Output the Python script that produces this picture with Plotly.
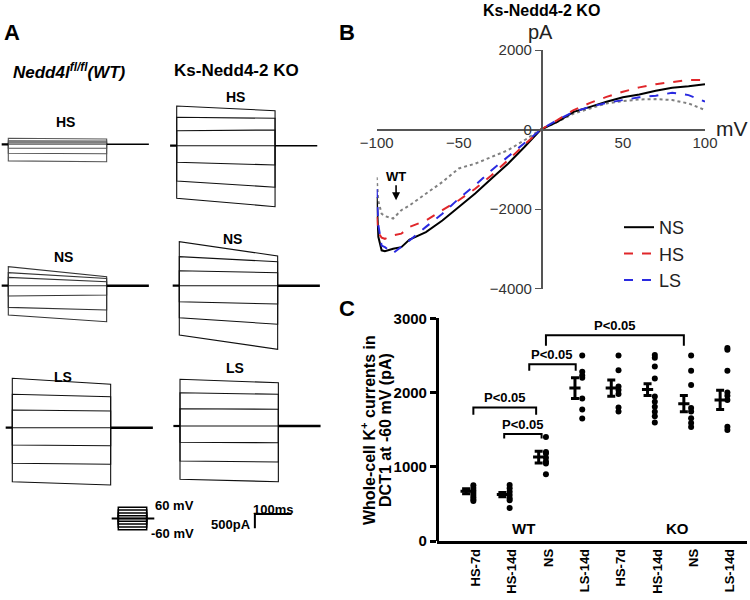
import plotly.graph_objects as go

W, H = 750, 600
FONT = "Liberation Sans, Arial, sans-serif"

# ---------------- Panel A data (pA, relative to holding) ----------------
steps_mV = [60, 40, 20, 0, -20, -40, -60]
protocol_icon_mV = [60, 45, 30, 15, 0, -15, -30, -45, -60]
hold_pre_ms = 18
pulse_ms = 268
hold_post_ms = 115
scale_ms = 100
scale_pA = 500

wt_hs_start = [210, 120, 55, 0, -140, -315, -580]
wt_hs_end = [185, 110, 50, 0, -140, -330, -610]
ko_hs_start = [1390, 995, 525, 0, -580, -1235, -1840]
ko_hs_end = [1225, 960, 550, 0, -675, -1455, -2135]
wt_ns_start = [665, 455, 290, 0, -360, -760, -1025]
wt_ns_end = [315, 255, 140, 0, -325, -850, -1260]
ko_ns_start = [1540, 1015, 525, 0, -560, -1120, -1725]
ko_ns_end = [1040, 840, 455, 0, -640, -1350, -2225]
wt_ls_start = [1730, 1170, 620, 0, -605, -1245, -1890]
wt_ls_end = [1520, 1085, 585, 0, -630, -1280, -2005]
ko_ls_start = [1635, 1165, 605, 0, -570, -1225, -1865]
ko_ls_end = [1515, 1110, 585, 0, -585, -1260, -1950]

# ---------------- Panel B data (I-V curves) ----------------
iv_mV = [-100, -99, -97, -95, -90, -85, -80, -70, -60, -50, -40, -30, -20, -10,
         0, 10, 20, 30, 40, 50, 60, 70, 80, 90, 100]
iv_ns = [-1700, -2700, -3040, -3060, -3000, -2960, -2770, -2580, -2290, -1950, -1610,
         -1235, -860, -440, 0, 190, 445, 570, 700, 810, 880, 975, 1050, 1090, 1140]
iv_hs = [-2200, -2600, -2720, -2750, -2660, -2620, -2450, -2290, -2030, -1780, -1490,
         -1150, -770, -395, 0, 235, 490, 670, 820, 950, 1060, 1140, 1200, 1245, 1245]
iv_ls = [-1500, -2400, -2920, -2960, -3110, -2960, -2790, -2450, -2120, -1740, -1400,
         -1025, -690, -350, 0, 235, 445, 570, 670, 740, 810, 850, 925, 865, 700]
iv_wt = [-1200, -1800, -2120, -2180, -2240, -2030, -1910, -1610, -1320, -980, -860,
         -690, -520, -270, 0, 190, 400, 530, 655, 715, 755, 765, 740, 655, 490]

# ---------------- Panel C data ----------------
c_labels = ["HS-7d", "HS-14d", "NS", "LS-14d", "HS-7d", "HS-14d", "NS", "LS-14d"]
c_points = [
    [750, 715, 680, 650, 620, 590, 560, 540],
    [755, 710, 665, 620, 575, 550, 445],
    [1400, 1200, 1180, 1120, 1070, 1045, 900],
    [2500, 2280, 2230, 2200, 1920, 1770, 1650],
    [2500, 2300, 2080, 2035, 1980, 1800, 1745],
    [2505, 2470, 2350, 2190, 1945, 1875, 1810, 1740, 1680, 1595],
    [2500, 2295, 2100, 1790, 1745, 1655, 1590, 1535],
    [2600, 2575, 2295, 2000, 1955, 1900, 1540, 1495],
]
c_mean = [670, 625, 1130, 2060, 2060, 2040, 1850, 1900]
c_sem = [35, 30, 80, 140, 110, 80, 110, 130]
c_brackets = [(0, 2, 1800), (1, 2, 1440), (2, 3, 2380), (2, 6, 2770)]
c_bracket_label = "P<0.05"


def fx(p):
    return p / W


def fy(p):
    return 1 - p / H


fig = go.Figure()
layout = dict(width=W, height=H, margin=dict(l=0, r=0, t=0, b=0, pad=0, autoexpand=False),
              paper_bgcolor="white", plot_bgcolor="rgba(0,0,0,0)",
              font=dict(family=FONT, color="black"), showlegend=True)
annotations = []


def ann(text, x, y, size=13, bold=True, angle=0, color="black", xanchor="center", yanchor="middle"):
    t = f"<b>{text}</b>" if bold else text
    annotations.append(dict(text=t, x=fx(x), y=fy(y), xref="paper", yref="paper",
                            showarrow=False, font=dict(size=size, family=FONT, color=color),
                            textangle=angle, xanchor=xanchor, yanchor=yanchor))


# ---------------- Panel A ----------------
MS_PX = 100 / 36.7   # ms per pixel
PA_PX = 35.0         # pA per pixel

recordings = [
    (wt_hs_start, wt_hs_end, 8.3, 144.3, "#555555"),
    (ko_hs_start, ko_hs_end, 176.7, 145.7, "#111111"),
    (wt_ns_start, wt_ns_end, 8.3, 285.7, "#333333"),
    (ko_ns_start, ko_ns_end, 179.3, 285.7, "#111111"),
    (wt_ls_start, wt_ls_end, 12.3, 427.7, "#111111"),
    (ko_ls_start, ko_ls_end, 180.0, 426.0, "#111111"),
]
for k, (st, en, px0, py0, col) in enumerate(recordings):
    n = k + 3
    xa, ya = f"x{n}", f"y{n}"
    layout[f"xaxis{n}"] = dict(domain=[fx(px0 - 8), fx(px0 + 150)], range=[-8 * MS_PX, 150 * MS_PX],
                               visible=False, anchor=ya, fixedrange=True)
    layout[f"yaxis{n}"] = dict(domain=[fy(py0 + 110), fy(py0 - 70)], range=[-110 * PA_PX, 70 * PA_PX],
                               visible=False, anchor=xa, fixedrange=True)
    for s, e in zip(st, en):
        fig.add_trace(go.Scatter(x=[0, 0, pulse_ms, pulse_ms], y=[0, s, e, 0], mode="lines",
                                 line=dict(color=col, width=1.1), xaxis=xa, yaxis=ya,
                                 showlegend=False, hoverinfo="skip"))
    # holding current
    fig.add_trace(go.Scatter(x=[-hold_pre_ms, 0], y=[0, 0], mode="lines", line=dict(color="black", width=2.2),
                             xaxis=xa, yaxis=ya, showlegend=False, hoverinfo="skip"))
    fig.add_trace(go.Scatter(x=[pulse_ms, pulse_ms + hold_post_ms], y=[0, 0], mode="lines",
                             line=dict(color="black", width=2.6 if k >= 2 else 1.6),
                             xaxis=xa, yaxis=ya, showlegend=False, hoverinfo="skip"))
    if k == 5:
        # scale bar
        sx, sy = 204, -3080
        fig.add_trace(go.Scatter(x=[sx, sx, sx + scale_ms], y=[sy - scale_pA, sy, sy], mode="lines",
                                 line=dict(color="black", width=2), xaxis=xa, yaxis=ya,
                                 showlegend=False, hoverinfo="skip"))

# protocol icon
layout["xaxis9"] = dict(domain=[fx(105), fx(160)], range=[-13.3, 41.7], visible=False, anchor="y9", fixedrange=True)
layout["yaxis9"] = dict(domain=[fy(537), fy(500)], range=[-99, 99], visible=False, anchor="x9", fixedrange=True)
for v in protocol_icon_mV:
    fig.add_trace(go.Scatter(x=[0, 0, 28.4, 28.4], y=[0, v, v, 0], mode="lines",
                             line=dict(color="black", width=1.5), xaxis="x9", yaxis="y9",
                             showlegend=False, hoverinfo="skip"))
fig.add_trace(go.Scatter(x=[-6.6, 36], y=[0, 0], mode="lines", line=dict(color="black", width=1.8),
                         xaxis="x9", yaxis="y9", showlegend=False, hoverinfo="skip"))

ann("A", 12, 32, size=22)
ann("<i>Nedd4l<sup>fl/fl</sup>(WT)</i>", 69, 71, size=17)
ann("Ks-Nedd4-2 KO", 236, 71, size=17)
ann("HS", 65, 122, size=14)
ann("HS", 235, 97, size=14)
ann("NS", 63, 257, size=14)
ann("NS", 233, 239, size=14)
ann("LS", 63, 377, size=14)
ann("LS", 235, 368, size=14)
ann("60 mV", 174, 505, size=13)
ann("-60 mV", 172, 533, size=13)
ann("100ms", 273, 509, size=13)
ann("500pA", 231, 524, size=13)

# ---------------- Panel B ----------------
layout["xaxis"] = dict(domain=[fx(376.7), fx(705)], range=[-100, 100], anchor="free", position=fy(129.5),
                       showline=True, linecolor="#555", linewidth=1.5, showgrid=False, zeroline=False,
                       tickvals=[-100, -50, 50, 100], ticks="", tickfont=dict(size=15, color="#333"),
                       fixedrange=True)
layout["yaxis"] = dict(domain=[fy(288.5), fy(50)], range=[-4000, 2000], anchor="free", position=fx(541.7),
                       showline=True, linecolor="#555", linewidth=1.5, showgrid=False, zeroline=False,
                       tickvals=[-4000, -2000, 0, 2000], ticks="outside", ticklen=6, tickcolor="#555",
                       tickfont=dict(size=15, color="#333"), fixedrange=True)
fig.add_trace(go.Scatter(x=iv_mV, y=iv_wt, mode="lines", line=dict(color="#808080", width=2, dash="dot"),
                         showlegend=False, name="WT", xaxis="x", yaxis="y"))
fig.add_trace(go.Scatter(x=iv_mV, y=iv_ns, mode="lines", line=dict(color="black", width=2),
                         name="NS", xaxis="x", yaxis="y"))
fig.add_trace(go.Scatter(x=iv_mV, y=iv_hs, mode="lines", line=dict(color="#e0262a", width=2, dash="dash"),
                         name="HS", xaxis="x", yaxis="y"))
fig.add_trace(go.Scatter(x=iv_mV, y=iv_ls, mode="lines", line=dict(color="#2a2ae0", width=2, dash="dash"),
                         name="LS", xaxis="x", yaxis="y"))
layout["legend"] = dict(x=fx(619), y=fy(209), xanchor="left", yanchor="top",
                        font=dict(size=18, family=FONT, color="#222"), bgcolor="rgba(0,0,0,0)",
                        tracegroupgap=0)
ann("B", 347, 32, size=22)
ann("Ks-Nedd4-2 KO", 541, 10, size=16)
ann("pA", 540, 32, size=20, bold=False, color="#222")
ann("mV", 732, 128, size=21, bold=False, color="#222")
annotations.append(dict(text="<b>WT</b>", x=-88.2, y=-1780, xref="x", yref="y", showarrow=True,
                        ax=0, ay=-24, arrowhead=2, arrowsize=1, arrowwidth=1.6, arrowcolor="black",
                        font=dict(size=13, family=FONT, color="black")))

# ---------------- Panel C ----------------
ncat = len(c_labels)
layout["xaxis2"] = dict(domain=[fx(436.7), fx(747)], range=[-1.01, 7.54], anchor="y2",
                        showline=True, linecolor="black", linewidth=2.5, showgrid=False, zeroline=False,
                        tickvals=[i + 0.07 for i in range(ncat)], ticktext=[f"<b>{t}</b>" for t in c_labels],
                        tickangle=-90, ticks="", tickfont=dict(size=13, family=FONT, color="black"),
                        fixedrange=True)
layout["yaxis2"] = dict(domain=[fy(541), fy(318.3)], range=[0, 3000], anchor="free", position=fx(436.7),
                        showline=True, linecolor="black", linewidth=2.5, showgrid=False, zeroline=False,
                        tickvals=[0, 1000, 2000, 3000], ticktext=[f"<b>{v}</b>" for v in [0, 1000, 2000, 3000]],
                        ticks="outside", ticklen=6, tickwidth=2.5, tickcolor="black",
                        tickfont=dict(size=15, family=FONT, color="black"), fixedrange=True)
for i, pts in enumerate(c_points):
    fig.add_trace(go.Scatter(x=[i] * len(pts), y=pts, mode="markers",
                             marker=dict(color="black", size=6), xaxis="x2", yaxis="y2",
                             showlegend=False, hoverinfo="skip"))
fig.add_trace(go.Scatter(x=[i - 0.2 for i in range(ncat)], y=c_mean, mode="markers",
                         marker=dict(symbol="line-ew", size=8, line=dict(color="black", width=3)),
                         error_y=dict(type="data", array=c_sem, color="black", thickness=3, width=4),
                         xaxis="x2", yaxis="y2", showlegend=False, hoverinfo="skip"))
bracket_ends = [(0.0, -0.27), (-0.15, -0.12), (-0.46, -0.18), (0.0, -0.2)]
drops = [100, 60, 85, 140]
for (a, b, h), (oa, ob), d in zip(c_brackets, bracket_ends, drops):
    xa_, xb_ = a + oa, b + ob
    fig.add_trace(go.Scatter(x=[xa_, xa_, xb_, xb_], y=[h - d, h, h, h - d], mode="lines",
                             line=dict(color="black", width=2), xaxis="x2", yaxis="y2",
                             showlegend=False, hoverinfo="skip"))
    annotations.append(dict(text=f"<b>{c_bracket_label}</b>", x=(xa_ + xb_) / 2, y=h, xref="x2", yref="y2",
                            yanchor="bottom", yshift=0, showarrow=False,
                            font=dict(size=13, family=FONT, color="black")))
ann("WT", 523, 528, size=15)
ann("KO", 677, 528, size=15)
ann("C", 347, 308, size=22)
ann("Whole-cell K<sup>+</sup> currents in", 368, 430, size=16, angle=-90)
ann("DCT1 at -60 mV (pA)", 385, 430, size=16, angle=-90)

layout["annotations"] = annotations
fig.update_layout(**layout)
fig.write_html("out.html", config={"displayModeBar": False},
               post_script="document.body.style.margin='0px';document.body.style.padding='0px';")
